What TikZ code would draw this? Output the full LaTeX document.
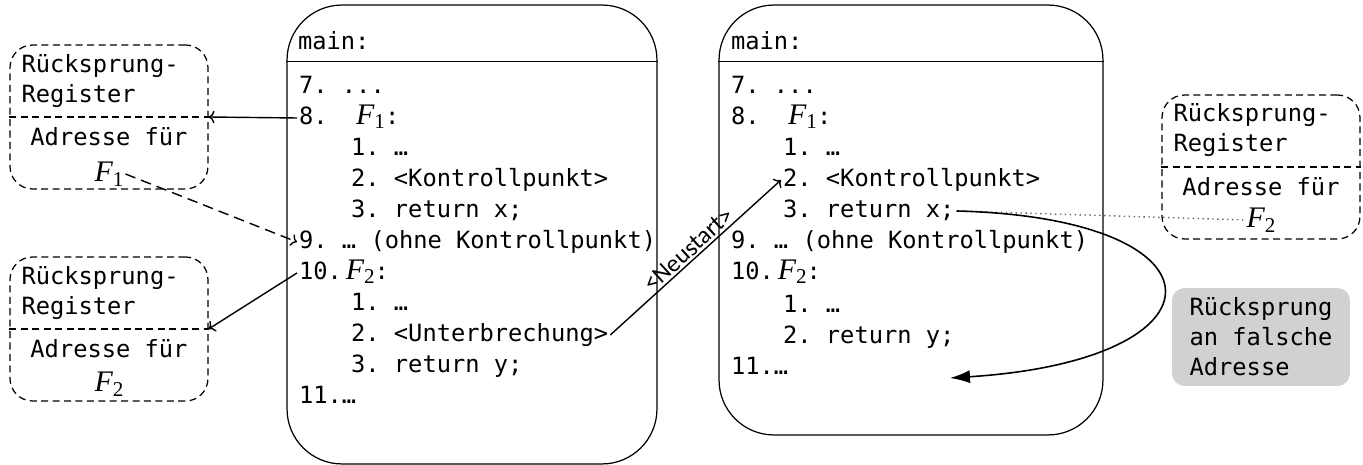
\documentclass[tikz,border=0pt]{standalone}
\usepackage{fontspec}
\setmonofont{DejaVu Sans Mono}
\newfontfamily\labelfont{Carlito}
\newfontfamily\varfont{Liberation Serif}
\usetikzlibrary{arrows.meta}
\usetikzlibrary{positioning}
\newcommand{\codefont}{\fontsize{13.5pt}{17pt}\selectfont\ttfamily}
\newcommand{\funcname}[1]{{\varfont\fontsize{17pt}{17pt}\selectfont\itshape F\raisebox{-0.35ex}{\upshape\fontsize{12pt}{12pt}\selectfont #1}}}
\tikzset{
  % one copy of the main program
  main box/.style = {
    draw = black,
    line width = 0.7pt,
    rounded corners = 1.1cm,
    inner sep = 0
  },
  % return address register
  reg box/.style = {
    draw = black,
    line width = 0.7pt,
    dash pattern = on 4pt off 2.5pt,
    rounded corners = 0.45cm,
    minimum width = 3.96cm,
    minimum height = 2.88cm,
    inner sep = 0
  },
  reg line/.style = {
    draw = black,
    line width = 0.7pt,
    dash pattern = on 4pt off 2.5pt
  },
  % one line of program text
  code/.style = {
    font = \codefont,
    anchor = west,
    inner sep = 1pt,
    text height = 10pt,
    text depth = 3pt
  },
  reg text/.style = {
    font = \codefont,
    inner sep = 1pt
  },
  note/.style = {
    font = \codefont,
    fill = black!18,
    rounded corners = 0.25cm,
    align = left,
    minimum width = 3.56cm,
    minimum height = 1.96cm,
    inner sep = 0
  },
  % connectors
  arr/.style = {
    draw = black,
    line width = 0.8pt,
    ->
  },
  darr/.style = {
    arr,
    dash pattern = on 6pt off 3.5pt
  },
  back arr/.style = {
    draw = black,
    line width = 0.9pt,
    -{Latex[length=4mm,width=2.6mm]}
  },
  hint/.style = {
    draw = black!60,
    line width = 0.8pt,
    dotted
  },
  node distance = 0.62cm
}

\begin{document}
\begin{tikzpicture}[x=0.02cm, y=-0.02cm]
    \useasboundingbox (0,0) rectangle (1363,465);

    % the two copies of main
    \node[main box, minimum width=7.4cm, minimum height=9.18cm] (m1) at (472,234.5) {};
    \node[main box, minimum width=7.68cm, minimum height=8.6cm] (m2) at (911,220) {};
    \draw[line width=0.7pt] ([yshift=-1.14cm]m1.north west) -- ([yshift=-1.14cm]m1.north east);
    \draw[line width=0.7pt] ([yshift=-1.14cm]m2.north west) -- ([yshift=-1.14cm]m2.north east);
    \node[code] (m1h) at (296,43) {main:};
    \node[code] (m2h) at (729,43) {main:};

    % interrupted run
    \node[code] (a7) at (297,87) {7. ...};
    \node[code] (a8) at (297,118) {8.~~\funcname{1}:};
    \node[code] (a81) at (349,149) {1. …};
    \node[code] (a82) [below=of a81.west, anchor=west] {2. <Kontrollpunkt>};
    \node[code] (a83) [below=of a82.west, anchor=west] {3. return x;};
    \node[code] (a9) at (297,242) {9. … (ohne Kontrollpunkt)};
    \node[code] (a10) [below=of a9.west, anchor=west] {10.\,\funcname{2}:};
    \node[code] (a101) at (349,304) {1. …};
    \node[code] (a102) [below=of a101.west, anchor=west] {2. <Unterbrechung>};
    \node[code] (a103) [below=of a102.west, anchor=west] {3. return y;};
    \node[code] (a11) at (297,397) {11.…};

    % restarted run
    \node[code] (c7) at (729,87) {7. ...};
    \node[code] (c8) at (729,118) {8.~~\funcname{1}:};
    \node[code] (c81) at (781,149) {1. …};
    \node[code] (c82) [below=of c81.west, anchor=west] {2. <Kontrollpunkt>};
    \node[code] (c83) [below=of c82.west, anchor=west] {3. return x;};
    \node[code] (c9) at (729,242) {9. … (ohne Kontrollpunkt)};
    \node[code] (c10) [below=of c9.west, anchor=west] {10.\,\funcname{2}:};
    \node[code] (c101) at (781,306) {1. …};
    \node[code] (c102) [below=of c101.west, anchor=west] {2. return y;};
    \node[code] (c11) at (729,368) {11.…};

    % return registers
    \node[reg box] (r1) at (109,117) {};
    \draw[reg line] (r1.west) -- (r1.east);
    \node[reg text, align=left, anchor=west] (r1t) at ([shift={(0.2cm,0.72cm)}]r1.west) {Rücksprung-\\Register};
    \node[reg text] (r1a) at ([yshift=-0.4cm]r1.center) {Adresse für};
    \node[reg text] (r1f) at ([yshift=-1.14cm]r1.center) {\funcname{1}};

    \node[reg box] (r2) at (109,329) {};
    \draw[reg line] (r2.west) -- (r2.east);
    \node[reg text, align=left, anchor=west] (r2t) at ([shift={(0.2cm,0.72cm)}]r2.west) {Rücksprung-\\Register};
    \node[reg text] (r2a) at ([yshift=-0.4cm]r2.center) {Adresse für};
    \node[reg text] (r2f) at ([yshift=-1.1cm]r2.center) {\funcname{2}};

    \node[reg box] (r3) at (1261,167) {};
    \draw[reg line] (r3.west) -- (r3.east);
    \node[reg text, align=left, anchor=west] (r3t) at ([shift={(0.2cm,0.74cm)}]r3.west) {Rücksprung-\\Register};
    \node[reg text] (r3a) at ([yshift=-0.4cm]r3.center) {Adresse für};
    \node[reg text] (r3f) at ([yshift=-1.06cm]r3.center) {\funcname{2}};

    \node[note] (wrong) at (1261,337) {Rücksprung\\an falsche\\Adresse};

    % connectors
    \draw[arr] (a8.west) -- (r1.east);
    \draw[darr] (r1f.east) -- (a9.west);
    \draw[arr] (a10.west) -- (r2.east);
    \draw[arr] (a102.east) -- (c82.west)
      node[midway, above, sloped, inner sep=1pt,
           font=\labelfont\fontsize{14pt}{16pt}\selectfont] (restart) {<Neustart>};
    \draw[hint] (c83.east) -- (r3f.west);
    \coordinate (ret) at (950,378);
    \draw[back arr] (c83.east) .. controls (1233,218) and (1233,360) .. (ret);
\end{tikzpicture}
\end{document}
